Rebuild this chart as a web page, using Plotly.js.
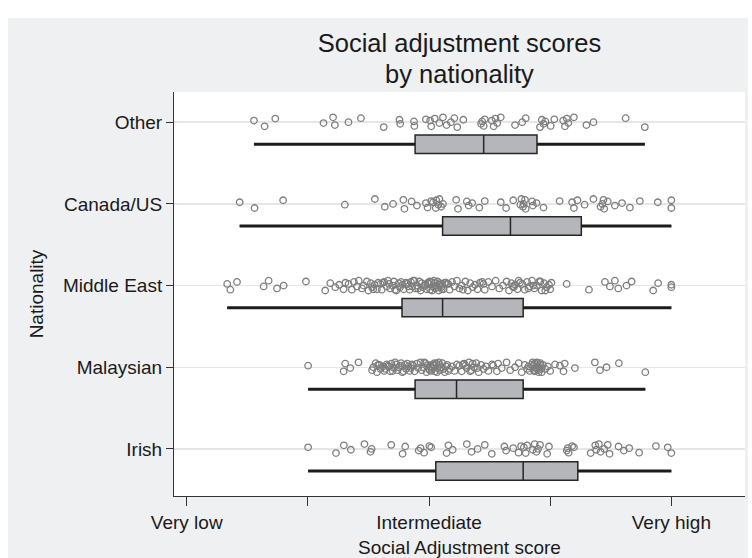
<!DOCTYPE html>
<html>
<head>
<meta charset="utf-8">
<script src="https://cdn.plot.ly/plotly-3.0.1.min.js"></script>
<style>
  html, body { margin: 0; padding: 0; background: #ffffff; }
  #chart { position: absolute; left: 8px; top: 18px; width: 740px; height: 540px; }
</style>
</head>
<body>
<div id="chart"></div>
<script>
// ---- Data ----
const categories = ["Irish", "Malaysian", "Middle East", "Canada/US", "Other"];

const xTickValues = [1, 2, 3, 4, 5];
const xTickLabels = ["Very low", "", "Intermediate", "", "Very high"];

// box statistics per category (same order as categories)
const lowerWhisker = [2.002, 2.002, 1.334, 1.437, 1.555];
const q1Values     = [3.056, 2.885, 2.777, 3.112, 2.885];
const medianValues = [3.777, 3.227, 3.112, 3.672, 3.451];
const q3Values     = [4.228, 3.777, 3.777, 4.257, 3.891];
const upperWhisker = [5.0, 4.785, 5.0, 5.0, 4.781];

// individual scores
const irishScores = [2.002, 2.232, 2.297, 2.355, 2.467, 2.517, 2.526, 2.688, 2.782, 2.803,
  2.915, 2.93, 2.959, 3.003, 3.018, 3.145, 3.16, 3.195, 3.312, 3.351, 3.401, 3.460, 3.518,
  3.622, 3.636, 3.695, 3.739, 3.76, 3.783, 3.798, 3.81, 3.857, 3.872, 3.887, 3.90, 3.916,
  3.975, 3.990, 4.137, 4.145, 4.152, 4.181, 4.196, 4.334, 4.372, 4.38, 4.402, 4.416, 4.446,
  4.475, 4.490, 4.564, 4.608, 4.652, 4.734, 4.873, 4.970, 5.0];

const malaysianScores = [2.002, 2.295, 2.308, 2.350, 2.418, 2.53, 2.54, 2.56, 2.57, 2.59,
  2.60, 2.62, 2.63, 2.65, 2.66, 2.68, 2.69, 2.71, 2.72, 2.74, 2.75, 2.77, 2.78, 2.80, 2.81,
  2.83, 2.84, 2.86, 2.87, 2.88, 2.90, 2.91, 2.93, 2.94, 2.95, 2.97, 2.98, 2.99, 3.00, 3.01,
  3.02, 3.03, 3.04, 3.05, 3.06, 3.07, 3.08, 3.09, 3.10, 3.11, 3.13, 3.15, 3.17, 3.19, 3.21,
  3.23, 3.25, 3.27, 3.29, 3.31, 3.33, 3.35, 3.37, 3.39, 3.41, 3.43, 3.45, 3.47, 3.49, 3.52,
  3.53, 3.56, 3.57, 3.60, 3.64, 3.67, 3.71, 3.74, 3.765, 3.79, 3.81, 3.82, 3.83, 3.85, 3.86,
  3.87, 3.875, 3.88, 3.89, 3.90, 3.91, 3.92, 3.93, 3.94, 3.96, 3.98, 4.00, 4.04, 4.08, 4.11,
  4.12, 4.204, 4.369, 4.411, 4.465, 4.567, 4.785,
  2.58, 2.64, 2.67, 2.70, 2.73, 2.76, 2.79, 2.82, 2.85, 2.96, 3.005, 3.025, 3.045, 3.065,
  3.085, 3.12, 3.14, 3.16, 3.28, 3.30, 3.34, 3.36, 3.40, 3.855, 3.865, 3.885, 3.895, 3.905,
  3.915, 3.925];

const middleEastScores = [1.334, 1.360, 1.415, 1.635, 1.676, 1.745, 1.800, 1.984, 2.143,
  2.185, 2.226, 2.259, 2.295, 2.31, 2.336, 2.363, 2.38, 2.405, 2.42, 2.446, 2.46, 2.487,
  2.50, 2.52, 2.53, 2.55, 2.57, 2.58, 2.60, 2.61, 2.63, 2.65, 2.66, 2.68, 2.70, 2.71, 2.73,
  2.75, 2.76, 2.78, 2.79, 2.81, 2.82, 2.84, 2.85, 2.86, 2.88, 2.89, 2.90, 2.92, 2.93, 2.94,
  2.95, 2.97, 2.98, 2.99, 3.00, 3.01, 3.02, 3.03, 3.04, 3.05, 3.06, 3.07, 3.08, 3.09, 3.10,
  3.11, 3.12, 3.13, 3.15, 3.17, 3.19, 3.21, 3.23, 3.25, 3.27, 3.30, 3.32, 3.34, 3.36, 3.38,
  3.40, 3.42, 3.45, 3.46, 3.49, 3.52, 3.55, 3.58, 3.61, 3.64, 3.66, 3.68, 3.70, 3.71, 3.73,
  3.75, 3.77, 3.79, 3.81, 3.83, 3.85, 3.87, 3.89, 3.91, 3.93, 3.95, 3.97, 3.99, 4.00, 4.01,
  4.136, 4.320, 4.452, 4.493, 4.534, 4.562, 4.630, 4.672, 4.850, 4.891, 5.0, 5.0,
  2.54, 2.62, 2.67, 2.72, 2.77, 2.83, 2.87, 2.91, 2.96, 3.005, 3.025, 3.045, 3.065, 3.085,
  3.105, 3.14, 3.16, 3.28, 3.44, 3.69, 3.74, 3.82, 3.86, 3.92, 3.96];

const canadaUsScores = [1.437, 1.560, 1.796, 2.305, 2.553, 2.635, 2.703, 2.788, 2.797,
  2.856, 2.900, 2.974, 2.988, 3.018, 3.033, 3.056, 3.06, 3.077, 3.086, 3.10, 3.115, 3.224,
  3.239, 3.312, 3.327, 3.356, 3.415, 3.460, 3.592, 3.636, 3.695, 3.754, 3.763, 3.775, 3.78,
  3.792, 3.798, 3.851, 3.857, 3.887, 3.945, 4.078, 4.181, 4.196, 4.225, 4.284, 4.357, 4.416,
  4.431, 4.44, 4.446, 4.475, 4.534, 4.593, 4.658, 4.740, 4.888, 5.0, 5.0];

const otherScores = [1.555, 1.643, 1.731, 2.129, 2.208, 2.223, 2.335, 2.438, 2.626, 2.756,
  2.762, 2.876, 2.879, 2.974, 3.009, 3.018, 3.047, 3.086, 3.115, 3.145, 3.180, 3.209, 3.233,
  3.283, 3.430, 3.439, 3.451, 3.46, 3.518, 3.533, 3.548, 3.563, 3.592, 3.710, 3.769, 3.798,
  3.916, 3.931, 3.945, 3.960, 4.004, 4.034, 4.107, 4.122, 4.137, 4.15, 4.196, 4.299, 4.357,
  4.623, 4.781];

const scoresByCategory = [irishScores, malaysianScores, middleEastScores, canadaUsScores, otherScores];

// ---- Presentation ----
const jitterPattern = [0.02, -0.05, 0.045, -0.01, 0.06, -0.035, 0.0, 0.05, -0.06, 0.03, -0.02, 0.01, -0.045, 0.035];
const boxOffset = 0.27;
const boxWidth = 0.226;

const traces = [];

// boxes
categories.forEach((c, i) => {
  const pos = i + 1 - boxOffset;
  traces.push({
    type: 'box', orientation: 'h', name: c,
    y: [pos], q1: [q1Values[i]], median: [medianValues[i]], q3: [q3Values[i]],
    lowerfence: [lowerWhisker[i]], upperfence: [upperWhisker[i]],
    width: boxWidth, whiskerwidth: 0,
    fillcolor: '#b5b6b9',
    line: { color: '#262626', width: 1.5 },
    hoverinfo: 'skip', showlegend: false
  });
});

// whiskers (thick lines)
categories.forEach((c, i) => {
  const pos = i + 1 - boxOffset;
  traces.push({
    type: 'scatter', mode: 'lines',
    x: [lowerWhisker[i], q1Values[i], null, q3Values[i], upperWhisker[i]],
    y: [pos, pos, null, pos, pos],
    line: { color: '#1c1c1c', width: 3 },
    hoverinfo: 'skip', showlegend: false
  });
});

// jittered points
categories.forEach((c, i) => {
  const vals = scoresByCategory[i];
  traces.push({
    type: 'scatter', mode: 'markers', name: c,
    x: vals,
    y: vals.map((v, k) => i + 1 + jitterPattern[k % jitterPattern.length]),
    marker: { symbol: 'circle-open', size: 6.5, color: '#7d7d7d', line: { width: 1.3, color: '#7d7d7d' } },
    hoverinfo: 'x', showlegend: false
  });
});

const fontFamily = '"Liberation Sans", Arial, Helvetica, sans-serif';

const layout = {
  width: 740, height: 540,
  margin: { l: 166, r: 3, t: 74, b: 62 },
  paper_bgcolor: '#eff0f2',
  plot_bgcolor: '#ffffff',
  font: { family: fontFamily, size: 19, color: '#1a1a1a' },
  boxmode: 'overlay',
  showlegend: false,
  title: {
    text: 'Social adjustment scores',
    font: { family: fontFamily, size: 25.5, color: '#1a1a1a' },
    x: 0.5, xref: 'paper', xanchor: 'center',
    y: 0.954, yref: 'container', yanchor: 'middle'
  },
  annotations: [{
    text: 'by nationality', showarrow: false,
    xref: 'paper', yref: 'paper', x: 0.5, y: 1.045,
    xanchor: 'center', yanchor: 'middle',
    font: { family: fontFamily, size: 25.5, color: '#1a1a1a' }
  }],
  xaxis: {
    range: [0.895, 5.608],
    tickmode: 'array', tickvals: xTickValues, ticktext: xTickLabels,
    showgrid: false, zeroline: false,
    showline: true, linecolor: '#333333', linewidth: 1,
    ticks: 'outside', ticklen: 9, tickcolor: '#333333', tickwidth: 1,
    tickfont: { size: 19, color: '#1a1a1a' },
    title: { text: 'Social Adjustment score', font: { size: 19, color: '#1a1a1a' }, standoff: 9 }
  },
  yaxis: {
    range: [0.424, 5.37],
    tickmode: 'array', tickvals: [1, 2, 3, 4, 5], ticktext: categories,
    showgrid: true, gridcolor: '#e6e6e6', gridwidth: 1.5,
    zeroline: false,
    showline: true, linecolor: '#333333', linewidth: 1,
    ticks: 'outside', ticklen: 7, tickcolor: '#333333', tickwidth: 1,
    tickfont: { size: 19, color: '#1a1a1a' },
    title: { text: 'Nationality', font: { size: 19, color: '#1a1a1a' }, standoff: 14 }
  }
};

Plotly.newPlot('chart', traces, layout, { displayModeBar: false, staticPlot: true });
</script>
</body>
</html>
